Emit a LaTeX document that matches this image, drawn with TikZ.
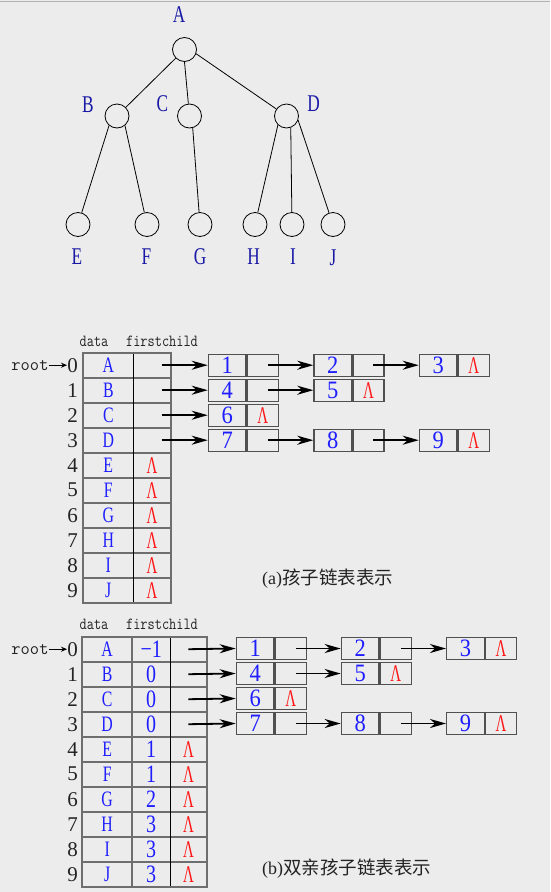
\documentclass[tikz,border=0pt]{standalone}
\usepackage{fontspec}
\setmainfont{Liberation Serif}
\newfontfamily\cjk{Noto Sans CJK SC}
\usetikzlibrary{arrows.meta}
\definecolor{bg}{RGB}{236,236,236}
\definecolor{treeblue}{RGB}{25,25,165}
\definecolor{cellblue}{RGB}{30,30,255}
\definecolor{nilred}{RGB}{255,20,20}
\definecolor{gridgray}{RGB}{110,110,110}
\definecolor{boxgray}{RGB}{80,80,80}
\definecolor{ink}{RGB}{35,35,35}
\newcommand{\nrw}[2][0.72]{\scalebox{#1}[1]{#2}}
\newcommand{\nil}{\nrw[0.62]{Λ}}
\tikzset{
  tnode/.style={circle,draw=black,line width=0.8pt,minimum size=24pt,inner sep=0pt},
  tlabel/.style={text=treeblue,font=\fontsize{24}{24}\selectfont,inner sep=0pt},
  tedge/.style={line width=0.8pt},
  letter/.style={text=cellblue,font=\fontsize{22}{22}\selectfont,inner sep=0pt},
  numtxt/.style={text=cellblue,font=\fontsize{25}{25}\selectfont,inner sep=0pt},
  niltxt/.style={text=nilred,font=\fontsize{24}{24}\selectfont,inner sep=0pt},
  rownum/.style={text=ink,font=\fontsize{21}{21}\selectfont,inner sep=0pt},
  hdr/.style={text=ink,font=\ttfamily\fontsize{17}{17}\selectfont,inner sep=0pt},
  roottxt/.style={text=ink,font=\ttfamily\fontsize{18}{18}\selectfont,inner sep=0pt},
  captxt/.style={text=ink,font=\fontsize{18}{18}\selectfont,inner sep=0pt,anchor=west},
  gridthick/.style={draw=gridgray,line width=2pt},
  gridthin/.style={draw=black,line width=1pt},
  dcell/.style={draw=boxgray,line width=1.4pt,minimum width=37.5pt,minimum height=22pt,inner sep=0pt,anchor=west,text=cellblue,font=\fontsize{25}{25}\selectfont},
  pcell/.style={draw=boxgray,line width=1.4pt,minimum width=31pt,minimum height=22pt,inner sep=0pt,anchor=west,text=nilred,font=\fontsize{24}{24}\selectfont},
  ptr/.style={line width=1.8pt,-{Stealth[length=16pt,width=9pt,inset=5pt]}},
  rootptr/.style={line width=1pt,-{Stealth[length=6pt,width=5pt]}},
}
% #1 name, #2 left x, #3 centre y, #4 digit, #5 pointer cell content
\newcommand{\lbox}[5]{%
  \node[dcell] (#1d) at (#2,#3) {\nrw[0.9]{#4}};
  \node[pcell] (#1p) at (#1d.east) {#5};
  \coordinate (#1s) at ([xshift=5pt]#1p.center);
}
\begin{document}
\begin{tikzpicture}[x=1pt,y=-1pt]
\fill[bg] (0,0) rectangle (550,892);
\useasboundingbox (0,0) rectangle (550,892);
\draw[black!30,line width=1.5pt] (0,1.5) -- (550,1.5);

% ---------------- tree ----------------
\node[tnode] (A) at (184.5,49.5) {};
\node[tnode] (B) at (117,116) {};
\node[tnode] (C) at (189.5,116) {};
\node[tnode] (D) at (286.5,116) {};
\node[tnode] (E) at (78,224.5) {};
\node[tnode] (F) at (147,224.5) {};
\node[tnode] (G) at (200,224.5) {};
\node[tnode] (H) at (255,224.5) {};
\node[tnode] (I) at (292,224.5) {};
\node[tnode] (J) at (333,224.5) {};
\node[tlabel] (lA) at (179,15) {\nrw{A}};
\node[tlabel] (lB) at (88,104.5) {\nrw{B}};
\node[tlabel] (lC) at (162.5,104) {\nrw{C}};
\node[tlabel] (lD) at (313.5,104) {\nrw{D}};
\node[tlabel] (lE) at (77,257) {\nrw{E}};
\node[tlabel] (lF) at (146.5,257) {\nrw{F}};
\node[tlabel] (lG) at (200,257) {\nrw{G}};
\node[tlabel] (lH) at (253.5,257) {\nrw{H}};
\node[tlabel] (lI) at (293,257) {\nrw{I}};
\node[tlabel] (lJ) at (333,258) {\nrw{J}};
\draw[tedge] (A) -- (B);
\draw[tedge] (A.-90) -- (C);
\draw[tedge] (A.-20) -- (D);
\draw[tedge] (B.-130) -- (E);
\draw[tedge] (B.-50) -- (F);
\draw[tedge] (C.-75) -- (G);
\draw[tedge] (D.-134) -- (H);
\draw[tedge] (D.-70) -- (I);
\draw[tedge] (D.-20) -- (J);

% ---------------- (a) child list ----------------
\node[hdr] (hdA1) at (94,341) {\nrw[0.82]{data}};
\node[hdr] (hdA2) at (162,341) {\nrw[0.82]{firstchild}};
\foreach \i in {1,...,9}
  \draw[gridthick] (83.3,{352.7+25*\i}) -- (170.7,{352.7+25*\i});
\draw[gridthin] (133.3,352.7) -- (133.3,602.7);
\draw[gridthick] (83.3,352.7) rectangle (170.7,602.7);
\foreach \l [count=\i from 0] in {A,B,C,D,E,F,G,H,I,J} {
  \node[letter] (da\i) at (108.3,{365.2+25*\i}) {\nrw{\l}};
  \node[rownum] (ra\i) at (72.5,{365.2+25*\i}) {\i};
}
\foreach \i in {4,...,9}
  \node[niltxt] (na\i) at (152,{365.2+25*\i}) {\nil};
\node[roottxt] (rootA) at (30,365.2) {root};
\draw[rootptr] (rootA) -- (ra0);
\foreach \i in {0,...,3}
  \coordinate (sa\i) at (161.7,{365.2+25*\i});

\lbox{a01}{207.7}{365.2}{1}{}
\lbox{a02}{313.3}{365.2}{2}{}
\lbox{a03}{418.7}{365.2}{3}{\nil}
\lbox{a11}{207.7}{390.2}{4}{}
\lbox{a12}{313.3}{390.2}{5}{\nil}
\lbox{a21}{207.7}{415.2}{6}{\nil}
\lbox{a31}{207.7}{440.2}{7}{}
\lbox{a32}{313.3}{440.2}{8}{}
\lbox{a33}{418.7}{440.2}{9}{\nil}

\draw[ptr] (sa0) -- (a01d.west);
\draw[ptr] (sa1) -- (a11d.west);
\draw[ptr] (sa2) -- (a21d.west);
\draw[ptr] (sa3) -- (a31d.west);
\draw[ptr] (a01s) -- (a02d.west);
\draw[ptr] (a02s) -- (a03d.west);
\draw[ptr] (a11s) -- (a12d.west);
\draw[ptr] (a31s) -- (a32d.west);
\draw[ptr] (a32s) -- (a33d.west);

\node[captxt] (capA) at (262,579) {(a)\cjk\fontsize{18.5}{18.5}\selectfont 孩子链表表示};

% ---------------- (b) parent-child list ----------------
\node[hdr] (hdB1) at (94,624.5) {\nrw[0.82]{data}};
\node[hdr] (hdB2) at (162,624.5) {\nrw[0.82]{firstchild}};
\foreach \i in {1,...,9}
  \draw[gridthick] (82,{636.7+25*\i}) -- (207,{636.7+25*\i});
\draw[gridthick] (132.3,636.7) -- (132.3,886.7);
\draw[gridthin] (170,636.7) -- (170,886.7);
\draw[gridthick] (82,636.7) rectangle (207,886.7);
\foreach \l/\p [count=\i from 0] in {A/−1,B/0,C/0,D/0,E/1,F/1,G/2,H/3,I/3,J/3} {
  \node[letter] (db\i) at (107.2,{649.2+25*\i}) {\nrw{\l}};
  \node[numtxt] (pb\i) at (151.2,{649.2+25*\i}) {\nrw[0.8]{\p}};
  \node[rownum] (rb\i) at (72.5,{649.2+25*\i}) {\i};
}
\foreach \i in {4,...,9}
  \node[niltxt] (nb\i) at (188.5,{649.2+25*\i}) {\nil};
\node[roottxt] (rootB) at (30,649.2) {root};
\draw[rootptr] (rootB) -- (rb0);
\foreach \i in {0,...,3}
  \coordinate (sb\i) at (188.3,{649.2+25*\i});

\lbox{b01}{235.7}{648.5}{1}{}
\lbox{b02}{340.7}{648.5}{2}{}
\lbox{b03}{446}{648.5}{3}{\nil}
\lbox{b11}{235.7}{673.5}{4}{}
\lbox{b12}{340.7}{673.5}{5}{\nil}
\lbox{b21}{235.7}{698.5}{6}{\nil}
\lbox{b31}{235.7}{723.5}{7}{}
\lbox{b32}{340.7}{723.5}{8}{}
\lbox{b33}{446}{723.5}{9}{\nil}

\draw[ptr] (sb0) -- (b01d.west);
\draw[ptr] (sb1) -- (b11d.west);
\draw[ptr] (sb2) -- (b21d.west);
\draw[ptr] (sb3) -- (b31d.west);
\draw[ptr] (b01s) -- (b02d.west);
\draw[ptr] (b02s) -- (b03d.west);
\draw[ptr] (b11s) -- (b12d.west);
\draw[ptr] (b31s) -- (b32d.west);
\draw[ptr] (b32s) -- (b33d.west);

\node[captxt] (capB) at (262,869) {(b)\cjk\fontsize{18.5}{18.5}\selectfont 双亲孩子链表表示};
\end{tikzpicture}
\end{document}
